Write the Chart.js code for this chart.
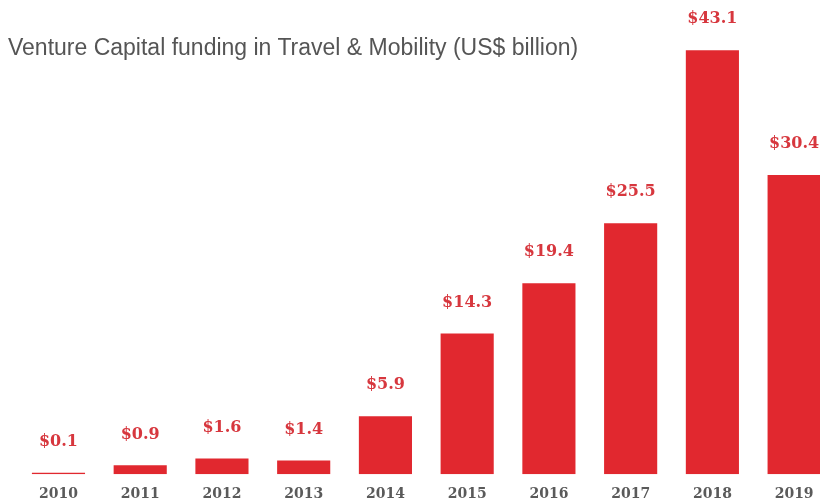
<!DOCTYPE html>
<html>
<head>
<meta charset="utf-8">
<script src="https://cdn.jsdelivr.net/npm/chart.js@4"></script>
<style>
  html, body { margin: 0; padding: 0; background: #fff; overflow: hidden; }
  #wrap { position: relative; width: 835px; height: 502px; }
  #title {
    position: absolute; left: 8px; top: 34px;
    font-family: "Liberation Sans", Arial, sans-serif; font-size: 23px;
    color: #555; white-space: nowrap; z-index: 2;
  }
</style>
</head>
<body>
<div id="wrap">
  <div id="title">Venture Capital funding in Travel &amp; Mobility (US$ billion)</div>
  <canvas id="chart"></canvas>
</div>
<script>
// data
const years = ['2010', '2011', '2012', '2013', '2014', '2015', '2016', '2017', '2018', '2019'];
const funding = [0.1, 0.9, 1.6, 1.4, 5.9, 14.3, 19.4, 25.5, 43.1, 30.4];

// value labels above the bars
const valueLabels = {
  id: 'valueLabels',
  afterDatasetsDraw(chart) {
    const ctx = chart.ctx;
    const meta = chart.getDatasetMeta(0);
    ctx.save();
    ctx.font = 'bold 16px "DejaVu Serif", serif';
    ctx.fillStyle = '#d7373e';
    ctx.textAlign = 'center';
    ctx.textBaseline = 'middle';
    meta.data.forEach((bar, i) => {
      ctx.fillText('$' + funding[i].toFixed(1), bar.x, bar.y - 31);
    });
    ctx.restore();
  }
};

const ctx = document.getElementById('chart').getContext('2d');
const chart = new Chart(ctx, {
  type: 'bar',
  data: {
    labels: years,
    datasets: [{
      label: 'VC funding',
      data: funding,
      backgroundColor: '#e1282f',
      borderWidth: 0,
      categoryPercentage: 1,
      barPercentage: 0.65,
      minBarLength: 1.5
    }]
  },
  options: {
    responsive: true,
    maintainAspectRatio: false,
    animation: false,
    layout: { padding: { left: 17.6, right: 0, top: 0, bottom: -13 } },
    plugins: {
      legend: { display: false },
      tooltip: { enabled: false }
    },
    scales: {
      x: {
        grid: { display: false, drawTicks: false },
        border: { display: false },
        ticks: {
          color: '#5a5a5a',
          padding: 12,
          font: { family: '"DejaVu Serif", serif', size: 14, weight: 'bold' }
        }
      },
      y: {
        display: false,
        min: 0,
        max: 48.2
      }
    }
  },
  plugins: [valueLabels]
});
</script>
</body>
</html>
